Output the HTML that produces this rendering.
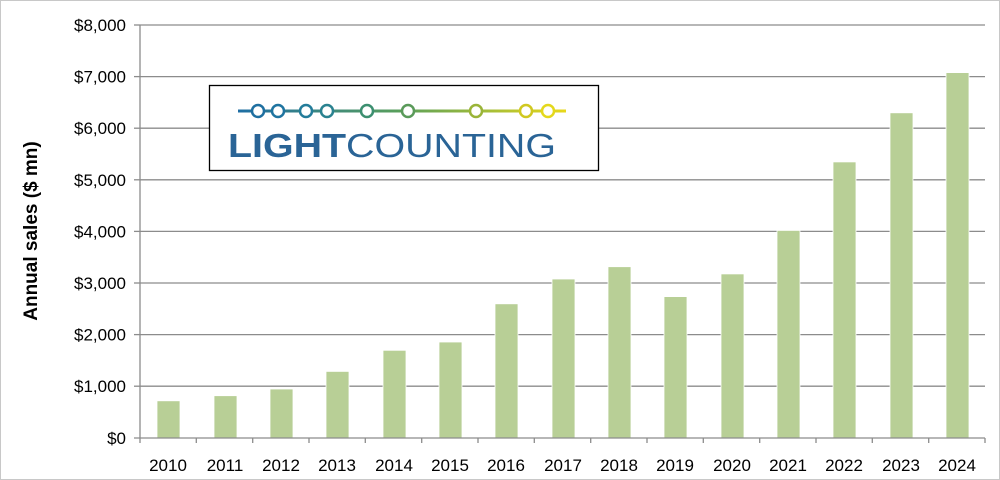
<!DOCTYPE html>
<html><head><style>
body{margin:0;background:#fff;}
svg{display:block;font-family:"Liberation Sans",Calibri,sans-serif;}
</style></head><body>
<svg width="1000" height="480" viewBox="0 0 1000 480">
<rect x="0.5" y="0.5" width="999" height="479" fill="#fff" stroke="#c8c8c8"/>
<defs><linearGradient id="g" gradientUnits="userSpaceOnUse" x1="238" y1="0" x2="566" y2="0"><stop offset="0" stop-color="#1e6ea4"/><stop offset="0.5" stop-color="#5aa05a"/><stop offset="1" stop-color="#e8d81a"/></linearGradient></defs>
<g stroke="#8c8c8c" stroke-width="1.3">
<line x1="140" x2="985" y1="25" y2="25"/><line x1="140" x2="985" y1="76.6" y2="76.6"/>
<line x1="140" x2="985" y1="128.2" y2="128.2"/><line x1="140" x2="985" y1="179.8" y2="179.8"/>
<line x1="140" x2="985" y1="231.4" y2="231.4"/><line x1="140" x2="985" y1="283" y2="283"/>
<line x1="140" x2="985" y1="334.6" y2="334.6"/><line x1="140" x2="985" y1="386.2" y2="386.2"/>
<line x1="140" x2="140" y1="25" y2="438"/>
</g>
<g fill="#b8cf96" stroke="#fff" stroke-width="0.8">
<rect x="157" y="400.8" width="23" height="37.2"/>
<rect x="214" y="395.7" width="23" height="42.3"/>
<rect x="270" y="389" width="23" height="49"/>
<rect x="326" y="371.4" width="23" height="66.6"/>
<rect x="383" y="350.3" width="23" height="87.7"/>
<rect x="439" y="342" width="23" height="96"/>
<rect x="495" y="303.8" width="23" height="134.2"/>
<rect x="552" y="279" width="23" height="159"/>
<rect x="608" y="266.7" width="23" height="171.3"/>
<rect x="664" y="296.6" width="23" height="141.4"/>
<rect x="721" y="273.9" width="23" height="164.1"/>
<rect x="777" y="230.4" width="23" height="207.6"/>
<rect x="833" y="161.9" width="23" height="276.1"/>
<rect x="890" y="112.8" width="23" height="325.2"/>
<rect x="946" y="72.6" width="23" height="365.4"/>
</g>
<g stroke="#8c8c8c" stroke-width="1.3">
<line x1="134" x2="985" y1="438" y2="438"/>
<line x1="134" x2="140" y1="25" y2="25"/><line x1="134" x2="140" y1="76.6" y2="76.6"/><line x1="134" x2="140" y1="128.2" y2="128.2"/><line x1="134" x2="140" y1="179.8" y2="179.8"/><line x1="134" x2="140" y1="231.4" y2="231.4"/><line x1="134" x2="140" y1="283" y2="283"/><line x1="134" x2="140" y1="334.6" y2="334.6"/><line x1="134" x2="140" y1="386.2" y2="386.2"/>
<line x1="140" x2="140" y1="438" y2="443"/><line x1="196.3" x2="196.3" y1="438" y2="443"/><line x1="252.7" x2="252.7" y1="438" y2="443"/><line x1="309" x2="309" y1="438" y2="443"/><line x1="365.3" x2="365.3" y1="438" y2="443"/><line x1="421.7" x2="421.7" y1="438" y2="443"/><line x1="478" x2="478" y1="438" y2="443"/><line x1="534.3" x2="534.3" y1="438" y2="443"/><line x1="590.7" x2="590.7" y1="438" y2="443"/><line x1="647" x2="647" y1="438" y2="443"/><line x1="703.3" x2="703.3" y1="438" y2="443"/><line x1="759.7" x2="759.7" y1="438" y2="443"/><line x1="816" x2="816" y1="438" y2="443"/><line x1="872.3" x2="872.3" y1="438" y2="443"/><line x1="928.7" x2="928.7" y1="438" y2="443"/><line x1="985" x2="985" y1="438" y2="443"/>
</g>
<g font-size="17" fill="#000" text-anchor="end">
<text x="126" y="31">$8,000</text><text x="126" y="82.6">$7,000</text><text x="126" y="134.2">$6,000</text><text x="126" y="185.8">$5,000</text><text x="126" y="237.4">$4,000</text><text x="126" y="289">$3,000</text><text x="126" y="340.6">$2,000</text><text x="126" y="392.2">$1,000</text><text x="126" y="444">$0</text>
</g>
<g font-size="17" fill="#000" text-anchor="middle">
<text x="168" y="471">2010</text><text x="225" y="471">2011</text><text x="281" y="471">2012</text><text x="337" y="471">2013</text><text x="394" y="471">2014</text><text x="450" y="471">2015</text><text x="506" y="471">2016</text><text x="563" y="471">2017</text><text x="619" y="471">2018</text><text x="675" y="471">2019</text><text x="732" y="471">2020</text><text x="788" y="471">2021</text><text x="844" y="471">2022</text><text x="901" y="471">2023</text><text x="957" y="471">2024</text>
</g>
<text transform="translate(37,231) rotate(-90)" text-anchor="middle" font-size="19" font-weight="bold">Annual sales ($ mn)</text>
<rect x="209.5" y="85.5" width="389" height="85" fill="#fff" stroke="#000" stroke-width="1.3"/>
<line x1="238" x2="566" y1="111" y2="111" stroke="url(#g)" stroke-width="3"/>
<g fill="#fff" stroke-width="2.5">
<circle cx="258" cy="111" r="6" stroke="#1f6fa0"/><circle cx="278" cy="111" r="6" stroke="#1f74a0"/><circle cx="306" cy="111" r="6" stroke="#237c9a"/><circle cx="327" cy="111" r="6" stroke="#2a8290"/><circle cx="367" cy="111" r="6" stroke="#3c8f70"/><circle cx="408" cy="111" r="6" stroke="#5a9a5a"/><circle cx="476" cy="111" r="6" stroke="#9ab438"/><circle cx="526" cy="111" r="6" stroke="#d0c820"/><circle cx="548" cy="111" r="6" stroke="#e4d81c"/>
</g>
<text x="228" y="157" font-size="33" fill="#2a6496" textLength="328" lengthAdjust="spacingAndGlyphs"><tspan font-weight="bold">LIGHT</tspan>COUNTING</text>
</svg>
</body></html>
